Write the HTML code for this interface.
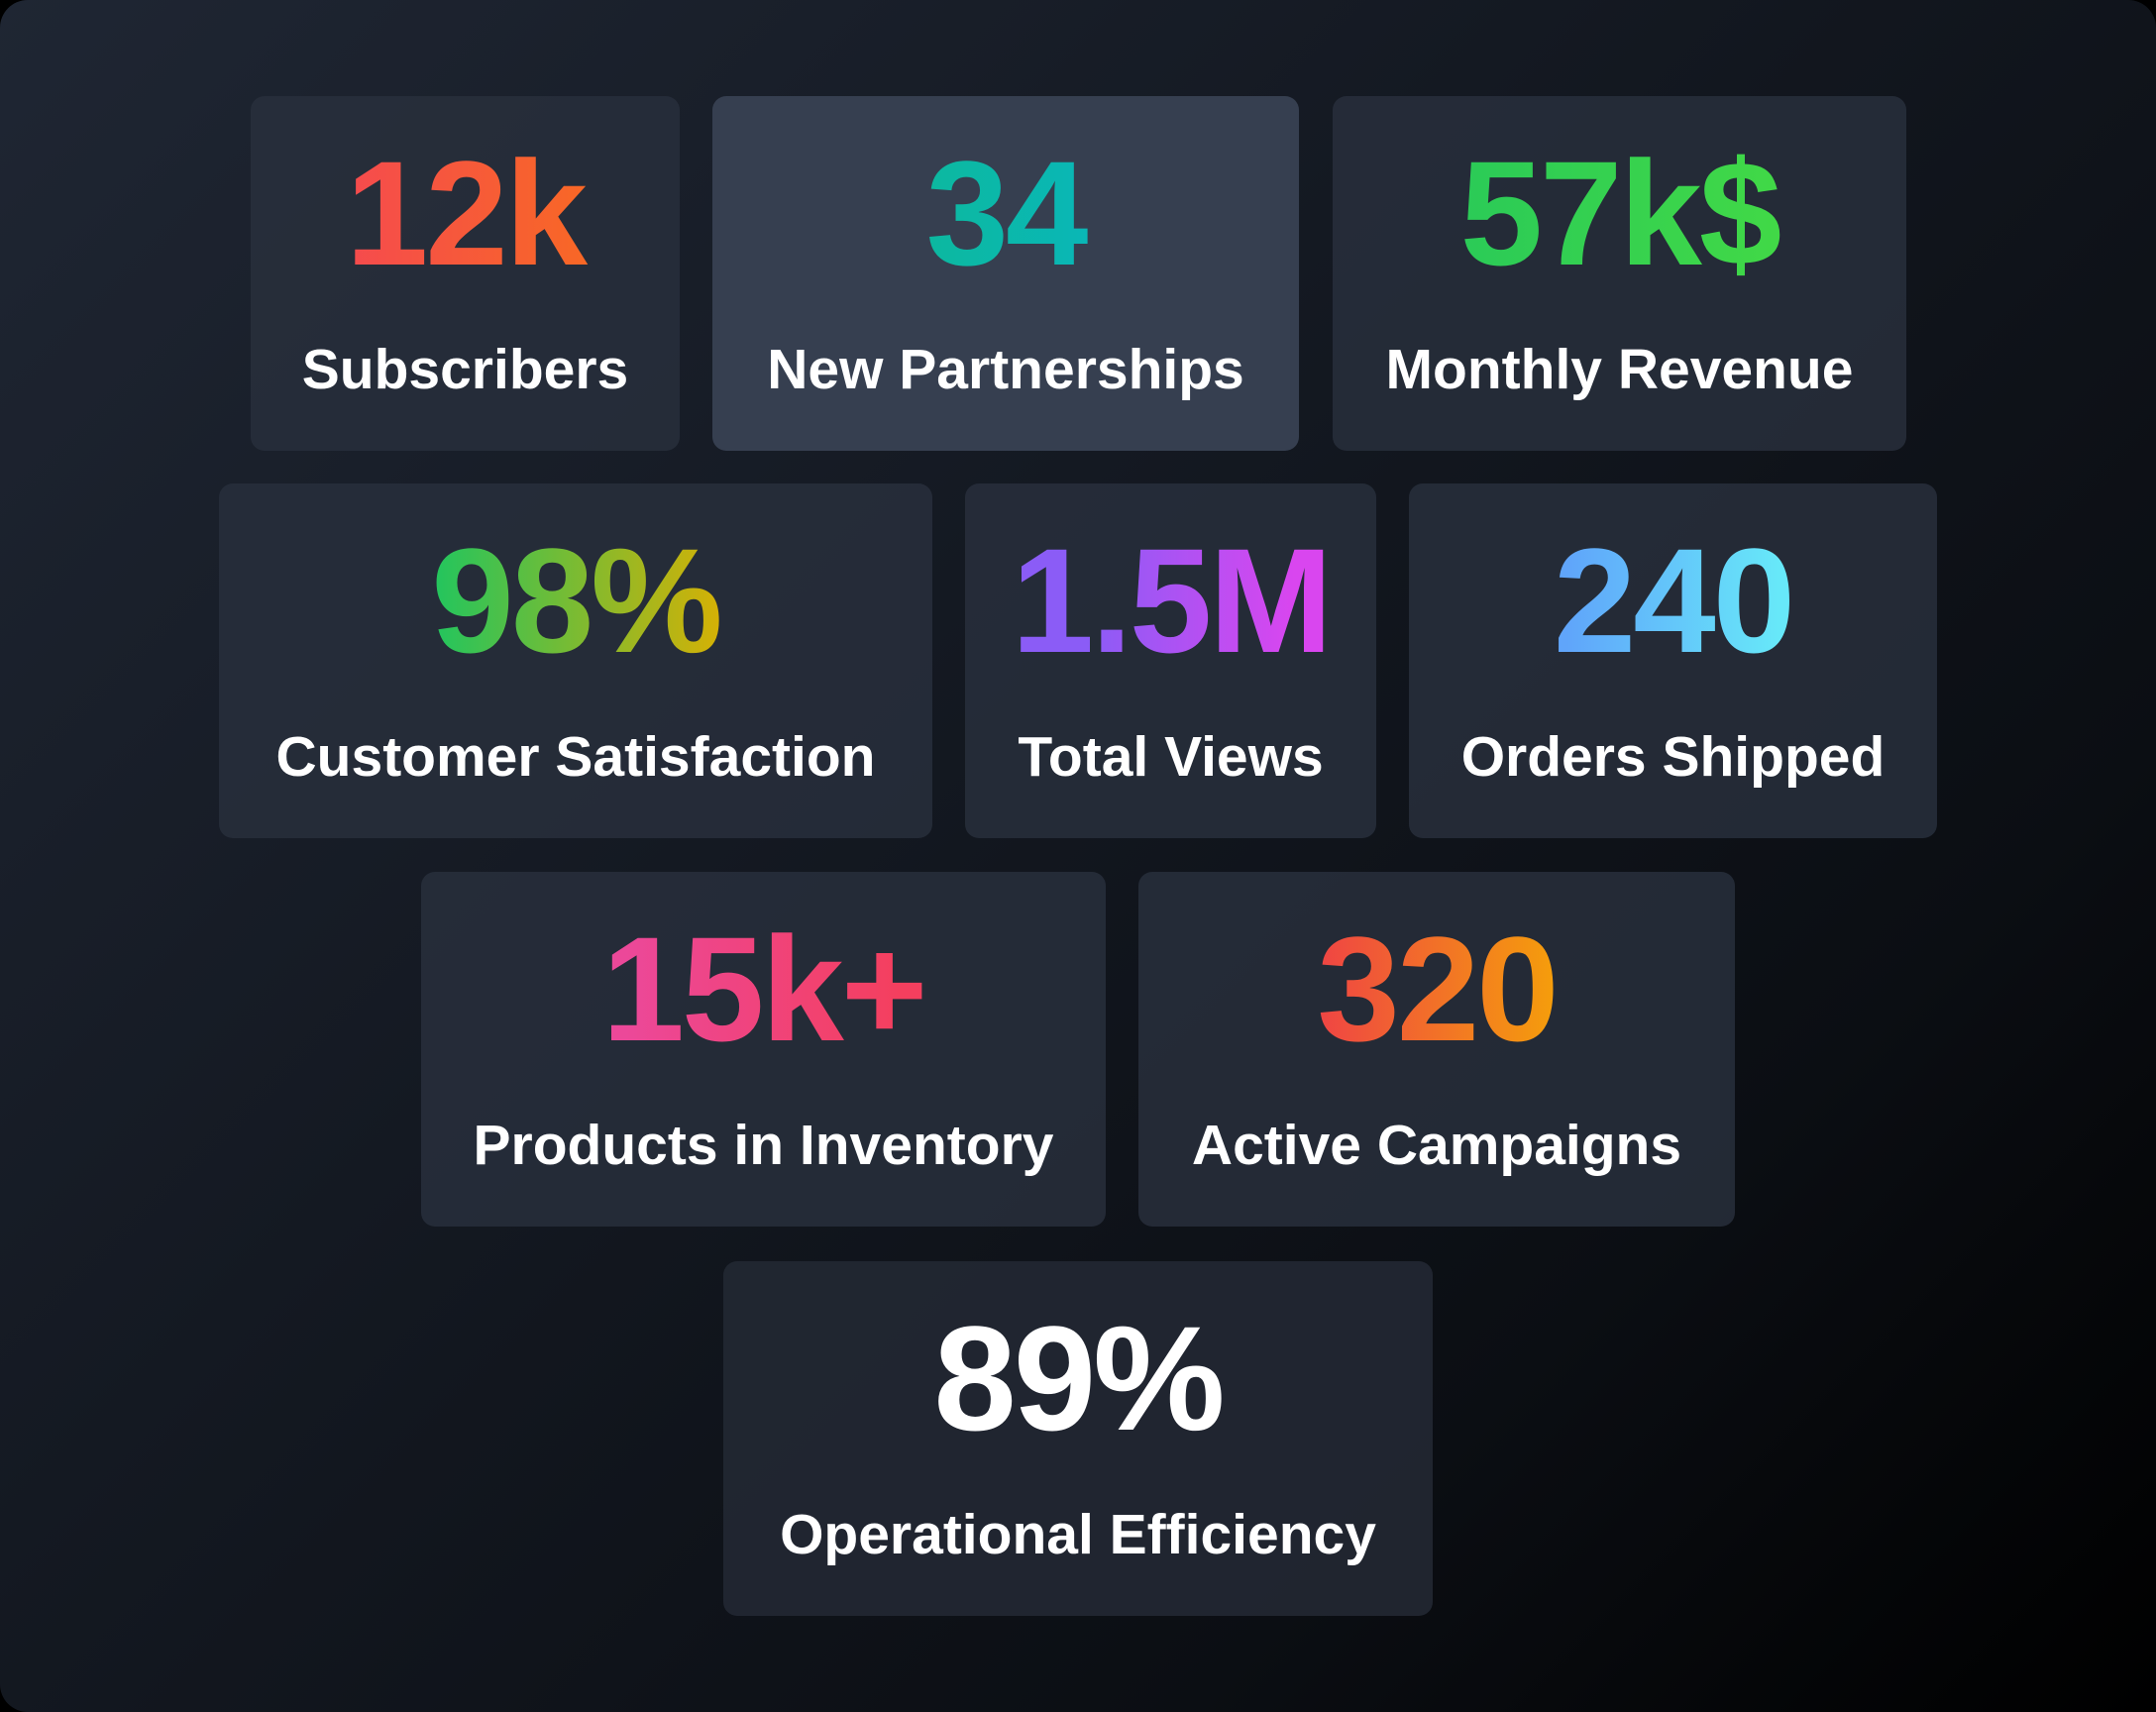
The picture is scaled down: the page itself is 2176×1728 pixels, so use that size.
<!DOCTYPE html>
<html><head><meta charset="utf-8"><style>
html,body{margin:0;padding:0;background:#000;}
#root{position:relative;width:2176px;height:1728px;border-radius:28px;overflow:hidden;
background:linear-gradient(135deg,#1f2633 0%,#141922 40%,#0b0e13 75%,#000 100%);
font-family:"Liberation Sans",sans-serif;}
.card{position:absolute;height:358px;background:rgba(40,47,60,0.85);border-radius:14px;}
.card.hl{background:#363f50;}
.num{position:absolute;left:0;right:0;top:28px;text-align:center;font-weight:700;font-size:150px;line-height:180px;letter-spacing:-3px;
-webkit-background-clip:text;background-clip:text;color:transparent;}
.lbl{position:absolute;left:0;right:0;top:236px;text-align:center;font-weight:700;font-size:57px;line-height:80px;color:#fff;}
</style></head><body>
<div id="root">
<div class="card" style="left:253px;top:97px;width:433px">
<div class="num" style="background-image:linear-gradient(90deg,#f43f5e,#f97316)">12k</div>
<div class="lbl">Subscribers</div></div>
<div class="card hl" style="left:719px;top:97px;width:592px">
<div class="num" style="background-image:linear-gradient(90deg,#10b981,#06b6d4)">34</div>
<div class="lbl">New Partnerships</div></div>
<div class="card" style="left:1345px;top:97px;width:579px">
<div class="num" style="background-image:linear-gradient(90deg,#22c55e,#4ade40)">57k$</div>
<div class="lbl">Monthly Revenue</div></div>

<div class="card" style="left:221px;top:488px;width:720px">
<div class="num" style="background-image:linear-gradient(90deg,#22c55e 30%,#d4b106 70%)">98%</div>
<div class="lbl">Customer Satisfaction</div></div>
<div class="card" style="left:974px;top:488px;width:415px">
<div class="num" style="background-image:linear-gradient(90deg,#8b5cf6 30%,#d946ef 80%)">1.5M</div>
<div class="lbl">Total Views</div></div>
<div class="card" style="left:1422px;top:488px;width:533px">
<div class="num" style="background-image:linear-gradient(90deg,#60a5fa 30%,#67e8f9 70%)">240</div>
<div class="lbl">Orders Shipped</div></div>

<div class="card" style="left:425px;top:880px;width:691px">
<div class="num" style="background-image:linear-gradient(90deg,#ec4899 30%,#f43f5e 70%)">15k+</div>
<div class="lbl">Products in Inventory</div></div>
<div class="card" style="left:1149px;top:880px;width:602px">
<div class="num" style="background-image:linear-gradient(90deg,#ef4444 30%,#f59e0b 70%)">320</div>
<div class="lbl">Active Campaigns</div></div>

<div class="card" style="left:730px;top:1273px;width:716px;background:rgba(34,40,51,0.9)">
<div class="num" style="background-image:linear-gradient(90deg,#fff,#fff)">89%</div>
<div class="lbl">Operational Efficiency</div></div>
</div>
</body></html>
